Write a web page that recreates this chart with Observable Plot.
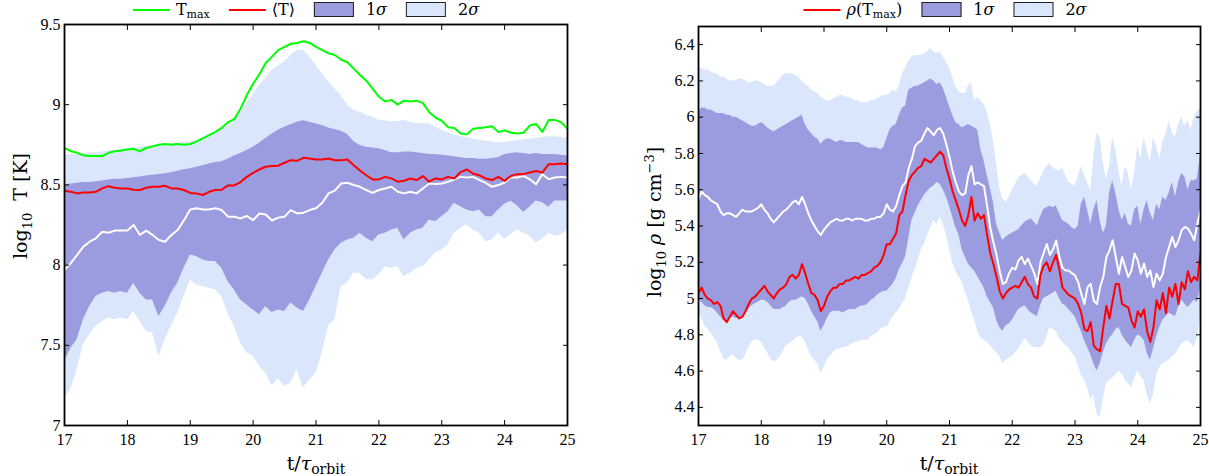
<!DOCTYPE html>
<html>
<head>
<meta charset="utf-8">
<script src="https://cdn.jsdelivr.net/npm/d3@7"></script>
<script src="https://cdn.jsdelivr.net/npm/@observablehq/plot@0.6"></script>
<style>
  body { margin: 0; background: #fff; font-family: "DejaVu Serif", serif; color: #000; }
  #wrap { display: flex; width: 1209px; height: 476px; }
  .panel { position: relative; }
  .legend { height: 22px; position: relative; font-size: 16px; }
  .leg { position: absolute; top: 0; height: 19px; display: flex; align-items: center; white-space: nowrap; transform: translateX(-50%); }
  .item { display: flex; align-items: center; margin-right: 19px; }
  .swl { display: inline-block; width: 37px; height: 0; border-top: 2px solid; margin-right: 6px; }
  .swb { display: inline-block; width: 38px; height: 13px; border: 1px solid #222; margin-right: 12px; }
  sub { font-size: 11px; vertical-align: -3px; line-height: 0; }
</style>
</head>
<body>
<div id="wrap">
  <div class="panel" id="p1">
    <div class="legend"><div class="leg" id="leg1"></div></div>
  </div>
  <div class="panel" id="p2">
    <div class="legend"><div class="leg" id="leg2"></div></div>
  </div>
</div>
<script>
// ---------- tick labels ----------
const xTicks = [17, 18, 19, 20, 21, 22, 23, 24, 25];
const tempTicks = [7, 7.5, 8, 8.5, 9, 9.5];
const rhoTicks = [4.4, 4.6, 4.8, 5, 5.2, 5.4, 5.6, 5.8, 6, 6.2, 6.4];

// ---------- left panel: log10 T, sampled every 0.1 orbit from 17 to 25 ----------
const timeT = d3.range(170, 251).map(i => i / 10);
const tMax = [8.73,8.71,8.70,8.685,8.68,8.68,8.68,8.70,8.71,8.715,
  8.72,8.725,8.71,8.73,8.74,8.75,8.755,8.75,8.755,8.75,
  8.755,8.77,8.79,8.81,8.83,8.855,8.89,8.91,8.975,9.06,
  9.13,9.19,9.26,9.30,9.34,9.36,9.38,9.385,9.395,9.385,
  9.36,9.34,9.32,9.31,9.28,9.265,9.225,9.185,9.15,9.10,
  9.05,9.02,9.03,9.00,9.025,9.02,9.025,9.01,8.955,8.92,
  8.90,8.86,8.855,8.82,8.815,8.85,8.855,8.86,8.865,8.83,
  8.84,8.825,8.82,8.825,8.87,8.88,8.83,8.905,8.905,8.89,
  8.85];
const tMean = [8.464,8.457,8.447,8.453,8.453,8.457,8.478,8.492,8.482,8.478,
  8.478,8.47,8.468,8.482,8.488,8.488,8.494,8.478,8.478,8.468,
  8.45,8.447,8.437,8.457,8.468,8.47,8.497,8.497,8.518,8.55,
  8.575,8.596,8.613,8.618,8.62,8.638,8.654,8.65,8.669,8.665,
  8.658,8.658,8.665,8.654,8.654,8.658,8.623,8.59,8.56,8.534,
  8.534,8.55,8.54,8.52,8.526,8.54,8.53,8.555,8.52,8.54,
  8.534,8.55,8.54,8.58,8.596,8.57,8.56,8.54,8.53,8.55,
  8.525,8.556,8.567,8.567,8.577,8.587,8.577,8.629,8.629,8.633,
  8.629];
const tMedian = [7.97,8.012,8.063,8.115,8.146,8.167,8.208,8.202,8.215,8.215,
  8.215,8.25,8.188,8.215,8.188,8.157,8.146,8.188,8.219,8.28,
  8.347,8.354,8.347,8.347,8.354,8.343,8.302,8.302,8.291,8.306,
  8.28,8.322,8.316,8.278,8.296,8.302,8.343,8.322,8.327,8.343,
  8.354,8.389,8.447,8.464,8.509,8.513,8.499,8.488,8.468,8.45,
  8.468,8.478,8.488,8.457,8.447,8.457,8.447,8.478,8.509,8.505,
  8.509,8.52,8.534,8.55,8.546,8.55,8.53,8.513,8.488,8.499,
  8.515,8.546,8.546,8.556,8.535,8.504,8.567,8.535,8.546,8.55,
  8.546];
const tSig1Hi = [8.50,8.505,8.51,8.515,8.515,8.52,8.525,8.53,8.535,8.535,
  8.54,8.545,8.55,8.555,8.56,8.565,8.57,8.575,8.585,8.595,
  8.60,8.61,8.62,8.63,8.64,8.645,8.66,8.68,8.695,8.715,
  8.735,8.76,8.79,8.815,8.84,8.86,8.875,8.89,8.90,8.89,
  8.88,8.87,8.855,8.845,8.835,8.815,8.77,8.745,8.735,8.73,
  8.725,8.715,8.70,8.70,8.705,8.705,8.70,8.695,8.69,8.69,
  8.685,8.68,8.675,8.67,8.665,8.665,8.66,8.66,8.665,8.67,
  8.69,8.695,8.70,8.695,8.69,8.695,8.69,8.69,8.69,8.685,
  8.68];
const tSig1Lo = [7.40,7.48,7.535,7.66,7.742,7.804,7.825,7.835,7.825,7.835,
  7.825,7.887,7.825,7.783,7.783,7.68,7.742,7.825,7.887,7.98,
  8.063,8.053,8.032,8.022,8.022,7.98,7.897,7.846,7.783,7.752,
  7.72,7.69,7.742,7.705,7.72,7.71,7.763,7.732,7.71,7.783,
  7.866,7.949,8.032,8.094,8.136,8.157,8.167,8.198,8.167,8.146,
  8.188,8.198,8.219,8.229,8.157,8.198,8.219,8.229,8.281,8.27,
  8.302,8.333,8.385,8.364,8.343,8.333,8.343,8.302,8.302,8.343,
  8.38,8.40,8.37,8.33,8.36,8.40,8.39,8.36,8.40,8.40,
  8.40];
const tSig2Hi = [8.685,8.69,8.69,8.695,8.70,8.70,8.705,8.71,8.715,8.72,
  8.727,8.73,8.735,8.74,8.745,8.748,8.752,8.756,8.76,8.764,
  8.768,8.78,8.795,8.81,8.825,8.84,8.865,8.893,8.944,9.007,
  9.065,9.12,9.162,9.214,9.24,9.266,9.307,9.338,9.34,9.297,
  9.245,9.193,9.142,9.10,9.058,8.996,8.965,8.955,8.934,8.924,
  8.903,8.90,8.893,8.895,8.903,8.89,8.882,8.882,8.882,8.86,
  8.84,8.825,8.81,8.80,8.795,8.785,8.778,8.772,8.767,8.762,
  8.765,8.77,8.775,8.78,8.785,8.79,8.795,8.80,8.80,8.795,
  8.79];
const tSig2Lo = [7.17,7.224,7.35,7.504,7.566,7.618,7.649,7.67,7.66,7.67,
  7.66,7.711,7.649,7.587,7.576,7.431,7.535,7.618,7.70,7.804,
  7.908,7.876,7.866,7.856,7.846,7.804,7.70,7.618,7.514,7.452,
  7.431,7.369,7.328,7.25,7.29,7.245,7.265,7.348,7.234,7.286,
  7.328,7.452,7.618,7.659,7.866,7.887,7.949,7.949,7.908,7.908,
  7.938,7.99,7.98,7.99,7.928,7.949,7.98,7.99,8.032,8.074,
  8.094,8.125,8.198,8.229,8.25,8.219,8.198,8.146,8.157,8.198,
  8.16,8.19,8.22,8.20,8.18,8.14,8.16,8.20,8.18,8.19,
  8.22];

// ---------- right panel: log10 rho, sampled every 0.05 orbit from 17 to 25 ----------
const timeRho = d3.range(340, 501).map(i => i / 20);
const rhoTmax = [5.03,5.06,5.02,5.00,4.99,4.97,4.98,4.96,4.89,4.87,4.90,4.93,4.91,4.89,4.90,4.93,4.97,5.00,5.01,5.03,
  5.05,5.07,5.04,5.02,5.00,5.03,5.05,5.06,5.08,5.12,5.13,5.11,5.13,5.19,5.14,5.08,5.03,5.02,4.99,4.93,
  4.96,5.01,5.04,5.06,5.06,5.08,5.08,5.10,5.10,5.11,5.12,5.11,5.13,5.13,5.14,5.15,5.17,5.18,5.20,5.24,
  5.30,5.30,5.33,5.36,5.46,5.48,5.57,5.65,5.68,5.70,5.72,5.73,5.77,5.76,5.75,5.77,5.79,5.81,5.79,5.72,
  5.66,5.59,5.54,5.49,5.43,5.40,5.46,5.56,5.43,5.47,5.44,5.46,5.35,5.25,5.19,5.12,5.04,5.00,5.03,5.05,
  5.06,5.07,5.06,5.09,5.12,5.08,5.06,5.01,5.00,5.13,5.18,5.20,5.15,5.20,5.24,5.16,5.06,5.04,5.02,5.01,
  5.00,4.97,4.92,4.83,4.82,4.87,4.74,4.72,4.71,4.84,4.96,4.89,4.99,5.08,5.08,4.97,4.96,4.95,4.88,4.84,
  4.93,4.90,4.94,4.82,4.76,4.84,4.99,4.94,5.03,4.92,5.06,5.01,5.08,4.97,5.09,5.05,5.15,5.09,5.12,5.10,
  5.25];
const rhoMedian = [5.55,5.59,5.57,5.56,5.54,5.53,5.52,5.48,5.46,5.47,5.47,5.46,5.45,5.47,5.49,5.48,5.48,5.48,5.49,5.50,
  5.52,5.49,5.47,5.44,5.42,5.44,5.46,5.48,5.49,5.51,5.53,5.54,5.52,5.56,5.52,5.47,5.43,5.40,5.37,5.35,
  5.38,5.40,5.42,5.43,5.44,5.43,5.43,5.44,5.44,5.43,5.44,5.44,5.44,5.43,5.43,5.44,5.44,5.45,5.45,5.47,
  5.52,5.49,5.48,5.51,5.57,5.62,5.64,5.72,5.77,5.84,5.86,5.87,5.91,5.94,5.92,5.90,5.93,5.94,5.91,5.85,
  5.78,5.70,5.64,5.59,5.57,5.58,5.68,5.73,5.63,5.64,5.63,5.62,5.51,5.39,5.31,5.24,5.15,5.08,5.09,5.14,
  5.17,5.16,5.21,5.23,5.19,5.22,5.18,5.14,5.08,5.20,5.25,5.30,5.24,5.27,5.32,5.23,5.17,5.155,5.155,5.14,
  5.128,5.09,5.026,4.97,5.063,5.081,4.988,4.97,5.063,5.118,5.229,5.266,5.321,5.229,5.137,5.229,5.174,5.118,5.155,5.248,
  5.211,5.137,5.193,5.118,5.155,5.063,5.137,5.10,5.137,5.229,5.284,5.34,5.284,5.321,5.377,5.395,5.386,5.358,5.321,5.414,
  5.487];
const rhoSig1Hi = [6.03,6.05,6.05,6.04,6.04,6.03,6.02,6.02,6.02,6.01,6.01,6.00,6.00,5.99,5.98,5.97,5.96,5.95,5.95,5.96,
  5.97,5.96,5.94,5.93,5.92,5.93,5.94,5.95,5.96,5.97,5.98,5.99,6.00,6.01,5.96,5.93,5.91,5.89,5.88,5.85,
  5.87,5.88,5.88,5.87,5.86,5.87,5.87,5.86,5.86,5.86,5.86,5.86,5.85,5.84,5.83,5.83,5.83,5.83,5.82,5.83,
  5.88,5.93,5.95,5.96,6.01,6.05,6.06,6.15,6.16,6.17,6.17,6.18,6.19,6.20,6.21,6.20,6.18,6.19,6.16,6.11,
  6.06,6.01,5.97,5.96,5.94,5.95,5.96,5.95,5.94,5.93,5.82,5.76,5.68,5.61,5.53,5.41,5.36,5.32,5.34,5.35,
  5.36,5.37,5.38,5.40,5.42,5.43,5.44,5.42,5.40,5.45,5.49,5.50,5.51,5.50,5.51,5.47,5.43,5.42,5.41,5.39,
  5.38,5.40,5.52,5.56,5.49,5.41,5.49,5.54,5.43,5.36,5.40,5.58,5.65,5.58,5.49,5.43,5.47,5.41,5.40,5.49,
  5.51,5.41,5.49,5.54,5.47,5.43,5.52,5.49,5.56,5.54,5.58,5.64,5.56,5.64,5.69,5.67,5.60,5.65,5.65,5.66,
  5.80];
const rhoSig1Lo = [5.00,4.98,4.96,4.95,4.95,4.94,4.92,4.90,4.88,4.87,4.89,4.90,4.89,4.89,4.90,4.92,4.94,4.96,4.97,4.98,
  4.99,4.99,4.98,4.96,4.94,4.94,4.94,4.95,4.96,4.98,4.99,4.99,5.00,5.01,5.00,4.97,4.93,4.90,4.87,4.82,
  4.85,4.89,4.92,4.93,4.93,4.93,4.92,4.93,4.94,4.94,4.94,4.95,4.96,4.96,4.97,4.99,5.00,5.02,5.03,5.04,
  5.04,5.06,5.08,5.11,5.16,5.19,5.23,5.33,5.43,5.47,5.51,5.54,5.57,5.59,5.61,5.62,5.64,5.63,5.60,5.56,
  5.51,5.45,5.39,5.35,5.27,5.23,5.19,5.17,5.15,5.12,5.09,5.06,5.01,4.98,4.95,4.88,4.84,4.82,4.85,4.86,
  4.88,4.91,4.94,4.95,4.96,4.94,4.92,4.91,4.90,4.96,5.00,5.01,5.02,5.03,5.04,5.00,4.97,4.96,4.94,4.92,
  4.90,4.86,4.82,4.77,4.73,4.69,4.64,4.60,4.64,4.70,4.75,4.78,4.80,4.83,4.84,4.80,4.77,4.75,4.73,4.77,
  4.80,4.79,4.77,4.70,4.66,4.72,4.79,4.84,4.88,4.90,4.92,4.91,4.90,4.95,4.99,4.97,4.95,4.97,4.99,4.98,
  5.06];
const rhoSig2Hi = [6.27,6.27,6.26,6.26,6.25,6.24,6.24,6.22,6.22,6.21,6.20,6.20,6.20,6.21,6.21,6.20,6.19,6.19,6.20,6.20,
  6.19,6.18,6.17,6.17,6.17,6.19,6.21,6.23,6.24,6.24,6.24,6.23,6.22,6.20,6.18,6.17,6.15,6.14,6.13,6.11,
  6.10,6.09,6.09,6.10,6.11,6.12,6.12,6.11,6.11,6.10,6.09,6.09,6.08,6.08,6.08,6.09,6.09,6.10,6.11,6.12,
  6.12,6.13,6.15,6.14,6.17,6.24,6.27,6.31,6.33,6.34,6.34,6.34,6.35,6.36,6.38,6.36,6.35,6.36,6.33,6.30,
  6.27,6.22,6.17,6.14,6.13,6.13,6.17,6.19,6.09,6.11,6.09,6.07,6.03,5.96,5.87,5.74,5.61,5.55,5.53,5.56,
  5.60,5.63,5.66,5.68,5.69,5.67,5.65,5.63,5.62,5.66,5.70,5.73,5.74,5.72,5.71,5.70,5.72,5.68,5.64,5.63,
  5.62,5.67,5.73,5.68,5.64,5.59,5.78,5.91,5.89,5.75,5.66,5.73,5.89,5.82,5.70,5.62,5.73,5.69,5.60,5.69,
  5.84,5.77,5.89,5.82,5.75,5.89,5.84,5.77,5.86,5.91,5.98,5.91,5.89,5.96,6.00,5.95,5.98,5.93,6.00,6.03,
  6.05];
const rhoSig2Lo = [4.92,4.89,4.85,4.83,4.81,4.78,4.76,4.71,4.67,4.66,4.68,4.69,4.67,4.66,4.66,4.69,4.73,4.76,4.77,4.77,
  4.76,4.73,4.70,4.67,4.65,4.66,4.68,4.71,4.74,4.75,4.76,4.78,4.79,4.79,4.76,4.72,4.68,4.66,4.64,4.59,
  4.62,4.66,4.68,4.70,4.72,4.72,4.73,4.73,4.74,4.75,4.76,4.76,4.77,4.77,4.77,4.79,4.80,4.81,4.83,4.84,
  4.84,4.87,4.90,4.92,4.94,4.97,5.00,5.06,5.11,5.16,5.21,5.27,5.30,5.35,5.39,5.43,5.41,5.45,5.41,5.35,
  5.27,5.20,5.15,5.12,5.09,5.04,4.99,4.93,4.88,4.82,4.78,4.77,4.76,4.74,4.72,4.70,4.68,4.64,4.66,4.67,
  4.68,4.70,4.72,4.75,4.78,4.76,4.74,4.73,4.73,4.73,4.74,4.79,4.84,4.83,4.82,4.78,4.76,4.74,4.73,4.70,
  4.68,4.63,4.58,4.55,4.51,4.44,4.47,4.36,4.34,4.44,4.53,4.55,4.56,4.58,4.60,4.58,4.55,4.53,4.51,4.56,
  4.60,4.57,4.55,4.47,4.42,4.47,4.58,4.62,4.64,4.65,4.66,4.68,4.69,4.72,4.75,4.76,4.77,4.75,4.73,4.78,
  4.90];

// ---------- styling ----------
const C = { sig1: "#9b9be0", sig2: "#d9e6fc", green: "#00ff00", red: "#ff0000" };
const TICKFONT = "Liberation Serif, Times New Roman, serif";
const LABELFONT = "DejaVu Serif, serif";

const leftRows = timeT.map((t, i) => ({t, max: tMax[i], mean: tMean[i], med: tMedian[i],
  s1lo: tSig1Lo[i], s1hi: tSig1Hi[i], s2lo: tSig2Lo[i], s2hi: tSig2Hi[i]}));
const rightRows = timeRho.map((t, i) => ({t, rho: rhoTmax[i], med: rhoMedian[i],
  s1lo: rhoSig1Lo[i], s1hi: rhoSig1Hi[i], s2lo: rhoSig2Lo[i], s2hi: rhoSig2Hi[i]}));

function frameAxes(yTicks) {
  const fmt = d => String(d);
  return [
    Plot.axisX({anchor: "bottom", ticks: xTicks, tickSize: -5, fill: "none", stroke: "black"}),
    Plot.axisX({anchor: "top", ticks: xTicks, tickSize: -5, fill: "none", stroke: "black"}),
    Plot.axisY({anchor: "left", ticks: yTicks, tickSize: -5, fill: "none", stroke: "black"}),
    Plot.axisY({anchor: "right", ticks: yTicks, tickSize: -5, fill: "none", stroke: "black"}),
    Plot.axisX({anchor: "bottom", ticks: xTicks, tickSize: 0, tickPadding: 8, tickFormat: fmt, label: null, fill: "black"}),
    Plot.axisY({anchor: "left", ticks: yTicks, tickSize: 0, tickPadding: 4, tickFormat: fmt, label: null, fill: "black"}),
    Plot.frame({stroke: "black", strokeWidth: 1.8})
  ];
}

function addText(svg, html, x, y, rotate, size) {
  const t = document.createElementNS("http://www.w3.org/2000/svg", "text");
  t.setAttribute("transform", `translate(${x},${y})` + (rotate ? ` rotate(${rotate})` : ""));
  t.setAttribute("text-anchor", "middle");
  t.setAttribute("font-size", size);
  t.setAttribute("font-family", LABELFONT);
  t.setAttribute("fill", "black");
  t.innerHTML = html;
  svg.appendChild(t);
}

const common = {
  height: 454, marginBottom: 51,
  x: {domain: [17, 25]},
  style: {fontFamily: TICKFONT, fontSize: "16px", color: "black", background: "white", overflow: "visible"}
};

// left plot
const plotT = Plot.plot({
  ...common, width: 604, marginLeft: 64, marginRight: 37, marginTop: 2,
  y: {domain: [7, 9.5]},
  marks: [
    Plot.areaY(leftRows, {x: "t", y1: "s2lo", y2: "s2hi", fill: C.sig2, clip: true}),
    Plot.areaY(leftRows, {x: "t", y1: "s1lo", y2: "s1hi", fill: C.sig1, clip: true}),
    Plot.lineY(leftRows, {x: "t", y: "med", stroke: "white", strokeWidth: 2, clip: true}),
    Plot.lineY(leftRows, {x: "t", y: "max", stroke: C.green, strokeWidth: 2, clip: true}),
    Plot.lineY(leftRows, {x: "t", y: "mean", stroke: C.red, strokeWidth: 2, clip: true}),
    ...frameAxes(tempTicks)
  ]
});
document.getElementById("p1").appendChild(plotT);
addText(plotT, 't/<tspan font-style="italic">τ</tspan><tspan font-size="14" dy="4">orbit</tspan>', 316, 448, 0, 19);
addText(plotT, 'log<tspan font-size="13" dy="5">10</tspan><tspan dy="-5">\u00a0\u00a0T\u00a0[K]</tspan>', 27, 184, -90, 19);

// right plot
const plotR = Plot.plot({
  ...common, width: 605, marginLeft: 94, marginRight: 9, marginTop: 4,
  y: {domain: [4.3, 6.5]},
  marks: [
    Plot.areaY(rightRows, {x: "t", y1: "s2lo", y2: "s2hi", fill: C.sig2, clip: true}),
    Plot.areaY(rightRows, {x: "t", y1: "s1lo", y2: "s1hi", fill: C.sig1, clip: true}),
    Plot.lineY(rightRows, {x: "t", y: "med", stroke: "white", strokeWidth: 2, clip: true}),
    Plot.lineY(rightRows, {x: "t", y: "rho", stroke: C.red, strokeWidth: 2, clip: true}),
    ...frameAxes(rhoTicks)
  ]
});
document.getElementById("p2").appendChild(plotR);
addText(plotR, 't/<tspan font-style="italic">τ</tspan><tspan font-size="14" dy="4">orbit</tspan>', 345, 448, 0, 19);
addText(plotR, 'log<tspan font-size="13" dy="5">10</tspan><tspan dy="-5">\u00a0</tspan><tspan font-style="italic">ρ</tspan><tspan>\u00a0[g\u00a0cm</tspan><tspan font-size="13" dy="-7">−3</tspan><tspan dy="7">]</tspan>', 57, 200, -90, 19);

// legends
function legendItems(el, center, items) {
  el.style.left = center + "px";
  items.forEach((it, k) => {
    const s = document.createElement("span");
    s.className = "item";
    if (k === items.length - 1) s.style.marginRight = "0";
    const sw = document.createElement("span");
    if (it.line) { sw.className = "swl"; sw.style.borderColor = it.line; }
    else { sw.className = "swb"; sw.style.background = it.box; }
    s.appendChild(sw);
    const lab = document.createElement("span");
    lab.innerHTML = it.label;
    s.appendChild(lab);
    el.appendChild(s);
  });
}
legendItems(document.getElementById("leg1"), 306, [
  {line: C.green, label: "T<sub>max</sub>"},
  {line: C.red, label: "⟨T⟩"},
  {box: C.sig1, label: "1<i>σ</i>"},
  {box: C.sig2, label: "2<i>σ</i>"}
]);
legendItems(document.getElementById("leg2"), 341, [
  {line: C.red, label: "<i>ρ</i>(T<sub>max</sub>)"},
  {box: C.sig1, label: "1<i>σ</i>"},
  {box: C.sig2, label: "2<i>σ</i>"}
]);
</script>
</body>
</html>
